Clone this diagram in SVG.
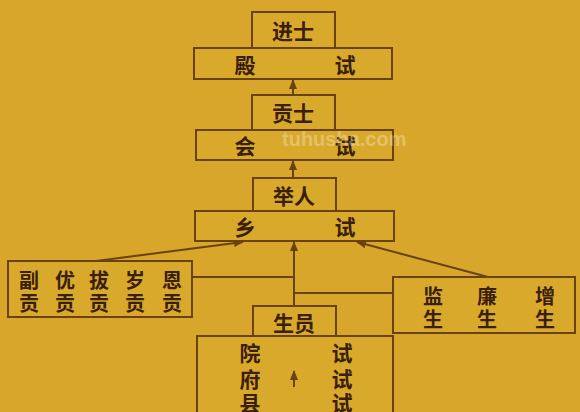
<svg xmlns="http://www.w3.org/2000/svg" width="580" height="412" viewBox="0 0 580 412">
<defs>
<style>
.bx{fill:#d9a92c;stroke:#6a4210;stroke-width:2}
.ln{fill:none;stroke:#6a4210;stroke-width:2}
.t{font-family:"Noto Sans CJK SC","Noto Sans CJK TC",sans-serif;font-weight:bold;font-size:21px;fill:#3a2008;text-anchor:middle;dominant-baseline:central}
.s{font-size:20px}
.wm{font-family:"Liberation Sans",Arial,sans-serif;font-weight:bold;font-size:20px;fill:#ffffff;fill-opacity:0.3}
</style>
<marker id="ah" viewBox="0 0 10 10" refX="9" refY="5" markerWidth="5" markerHeight="5" orient="auto-start-reverse">
<path d="M0,1 L10,5 L0,9 Z" fill="#6a4210"/>
</marker>
</defs>
<rect x="0" y="0" width="580" height="412" fill="#d7a62a"/>
<g id="connectors">
<line class="ln" x1="293" y1="95" x2="293" y2="80" marker-end="url(#ah)"/>
<line class="ln" x1="293" y1="178" x2="293" y2="161" marker-end="url(#ah)"/>
<line class="ln" x1="294" y1="306" x2="294" y2="242" marker-end="url(#ah)"/>
<line class="ln" x1="96" y1="261" x2="243" y2="242" marker-end="url(#ah)"/>
<line class="ln" x1="488" y1="277" x2="357" y2="242" marker-end="url(#ah)"/>
<line class="ln" x1="192" y1="277" x2="294" y2="277"/>
<line class="ln" x1="294" y1="293" x2="393" y2="293"/>
</g>
<g id="jinshi">
<rect class="bx" x="252" y="12" width="83" height="36"/>
<text class="t" x="293" y="30">进士</text>
</g>
<g id="dianshi">
<rect class="bx" x="194" y="48" width="198" height="31"/>
<text class="t" x="245" y="64">殿</text>
<text class="t" x="345" y="64">试</text>
</g>
<g id="gongshi">
<rect class="bx" x="252" y="95" width="83" height="35"/>
<text class="t" x="293" y="112">贡士</text>
</g>
<g id="huishi">
<rect class="bx" x="196" y="130" width="197" height="30"/>
<text class="t" x="245" y="145">会</text>
<text class="t" x="345" y="145">试</text>
</g>
<text class="wm" x="282" y="146">tuhusha.com</text>
<g id="juren">
<rect class="bx" x="253" y="178" width="83" height="33"/>
<text class="t" x="294" y="195">举人</text>
</g>
<g id="xiangshi">
<rect class="bx" x="195" y="211" width="199" height="30"/>
<text class="t" x="245" y="226">乡</text>
<text class="t" x="345" y="226">试</text>
</g>
<g id="gong">
<rect class="bx" x="8" y="261" width="184" height="56"/>
<text class="t s" x="29" y="279">副</text><text class="t s" x="29" y="302">贡</text>
<text class="t s" x="65" y="279">优</text><text class="t s" x="65" y="302">贡</text>
<text class="t s" x="99" y="279">拔</text><text class="t s" x="99" y="302">贡</text>
<text class="t s" x="135" y="279">岁</text><text class="t s" x="135" y="302">贡</text>
<text class="t s" x="172" y="279">恩</text><text class="t s" x="172" y="302">贡</text>
</g>
<g id="jiansheng">
<rect class="bx" x="393" y="277" width="182" height="56"/>
<text class="t s" x="433" y="295">监</text><text class="t s" x="433" y="318">生</text>
<text class="t s" x="487" y="295">廉</text><text class="t s" x="487" y="318">生</text>
<text class="t s" x="545" y="295">增</text><text class="t s" x="545" y="318">生</text>
</g>
<g id="shengyuan">
<rect class="bx" x="253" y="306" width="83" height="30"/>
<text class="t" x="294" y="322">生员</text>
</g>
<g id="tongshi">
<rect class="bx" x="197" y="336" width="196" height="90"/>
<text class="t" x="250" y="352">院</text>
<text class="t" x="250" y="378">府</text>
<text class="t" x="250" y="402">县</text>
<text class="t" x="342" y="352">试</text>
<text class="t" x="342" y="378">试</text>
<text class="t" x="342" y="402">试</text>
<line class="ln" x1="294" y1="387" x2="294" y2="371" stroke-width="1.5" marker-end="url(#ah)"/>
</g>
</svg>
